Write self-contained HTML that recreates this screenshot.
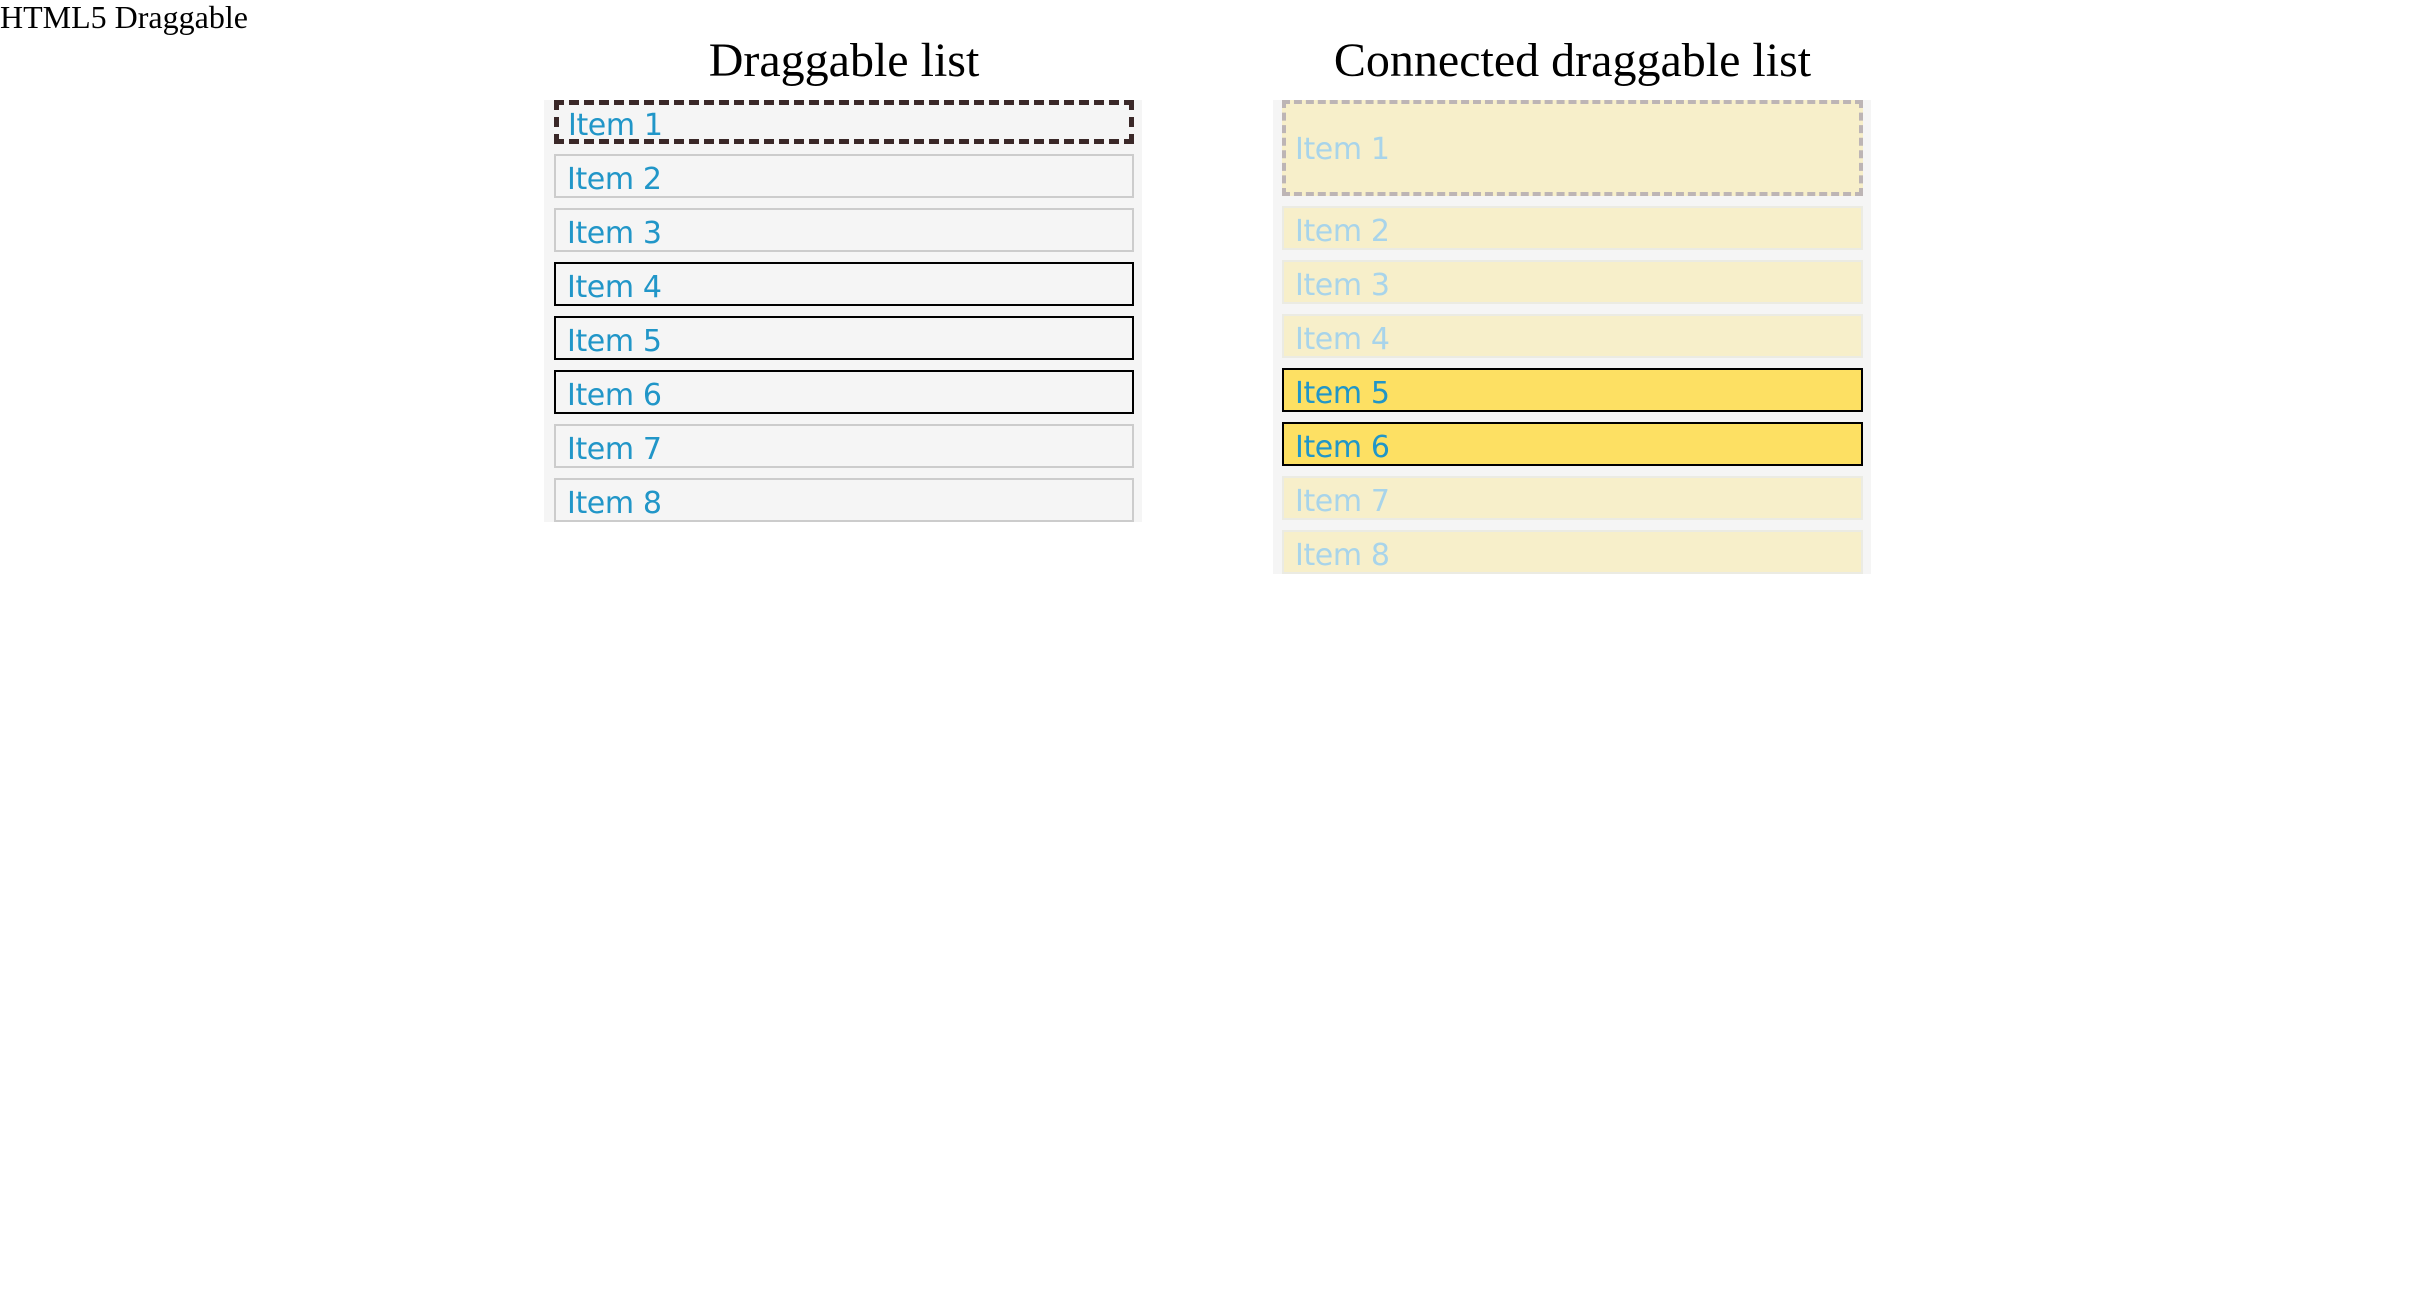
<!DOCTYPE html>
<html><head><meta charset="utf-8"><style>
html,body{margin:0;padding:0;background:#fff;width:2416px;height:1296px;overflow:hidden;position:relative}
.hdr{position:absolute;left:0;top:0;font:32px "Liberation Serif",serif;line-height:34px;color:#000}
.title{position:absolute;top:31px;font:48px "Liberation Serif",serif;line-height:60px;text-align:center;color:#000}
.cont{position:absolute;background:#f5f5f5}
.it{position:absolute;box-sizing:border-box;height:44px;font:30px "DejaVu Sans",sans-serif;letter-spacing:-0.4px;color:#2196c8;line-height:30px;white-space:nowrap}
.it span{position:absolute;top:39px;transform:translateY(-100%)}
</style></head><body>
<div class="hdr">HTML5 Draggable</div>
<div class="title" style="left:554px;width:580px">Draggable list</div>
<div class="title" style="left:1282px;width:581px">Connected draggable list</div>

<div class="cont" style="left:544px;top:100px;width:598px;height:422px"></div>
<div class="cont" style="left:1273px;top:100px;width:598px;height:474px"></div>

<!-- left list -->
<div class="it" style="left:554px;top:100px;width:580px;border:5px dashed #3a2828"><span style="left:9px;top:36px">Item 1</span></div>
<div class="it" style="left:554px;top:154px;width:580px;border:2px solid #ccc"><span style="left:11px">Item 2</span></div>
<div class="it" style="left:554px;top:208px;width:580px;border:2px solid #ccc"><span style="left:11px">Item 3</span></div>
<div class="it" style="left:554px;top:262px;width:580px;border:2px solid #000"><span style="left:11px">Item 4</span></div>
<div class="it" style="left:554px;top:316px;width:580px;border:2px solid #000"><span style="left:11px">Item 5</span></div>
<div class="it" style="left:554px;top:370px;width:580px;border:2px solid #000"><span style="left:11px">Item 6</span></div>
<div class="it" style="left:554px;top:424px;width:580px;border:2px solid #ccc"><span style="left:11px">Item 7</span></div>
<div class="it" style="left:554px;top:478px;width:580px;border:2px solid #ccc"><span style="left:11px">Item 8</span></div>

<!-- right list -->
<div class="it" style="left:1282px;top:100px;width:581px;height:96px;border:4px dashed #bdb5b5;background:#f7efca;color:#a8d4ea"><span style="left:9px;top:61px">Item 1</span></div>
<div class="it" style="left:1282px;top:206px;width:581px;border:2px solid #ebebe3;background:#f7efca;color:#a8d4ea"><span style="left:11px">Item 2</span></div>
<div class="it" style="left:1282px;top:260px;width:581px;border:2px solid #ebebe3;background:#f7efca;color:#a8d4ea"><span style="left:11px">Item 3</span></div>
<div class="it" style="left:1282px;top:314px;width:581px;border:2px solid #ebebe3;background:#f7efca;color:#a8d4ea"><span style="left:11px">Item 4</span></div>
<div class="it" style="left:1282px;top:368px;width:581px;border:2px solid #000;background:#fde063"><span style="left:11px">Item 5</span></div>
<div class="it" style="left:1282px;top:422px;width:581px;border:2px solid #000;background:#fde063"><span style="left:11px">Item 6</span></div>
<div class="it" style="left:1282px;top:476px;width:581px;border:2px solid #ebebe3;background:#f7efca;color:#a8d4ea"><span style="left:11px">Item 7</span></div>
<div class="it" style="left:1282px;top:530px;width:581px;border:2px solid #ebebe3;background:#f7efca;color:#a8d4ea"><span style="left:11px">Item 8</span></div>
</body></html>
